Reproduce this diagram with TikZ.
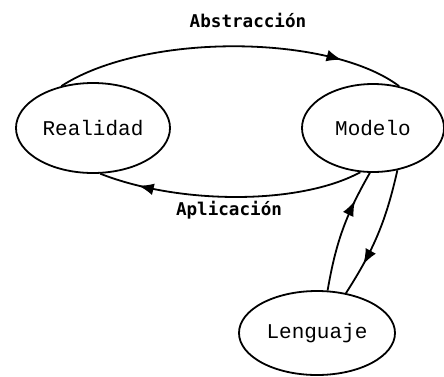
\documentclass[tikz,border=0pt]{standalone}
\usepackage{fontspec}
\setmonofont{Liberation Mono}
\newfontfamily\labelfont{DejaVu Sans Mono}
\usetikzlibrary{shapes.geometric}
\usetikzlibrary{arrows}
\usetikzlibrary{decorations.markings}

\tikzset{
  concept/.style={ellipse, draw, line width=0.9pt, inner sep=0pt,
    font=\fontsize{10.5}{12}\selectfont\ttfamily},
  flow/.style={line width=0.9pt, postaction={decorate},
    decoration={markings, mark=at position #1 with {\arrow[scale=1.4]{latex}}}},
  flow/.default=0.5,
  flowlabel/.style={font=\fontsize{8.8}{10}\selectfont\labelfont\bfseries}
}

\begin{document}
\begin{tikzpicture}[x=0.5pt,y=-0.5pt]
\useasboundingbox (0,0) rectangle (444,376);
\node[concept, minimum width=77pt, minimum height=45pt] (real) at (93,128) {Realidad};
\node[concept, minimum width=71pt, minimum height=44pt] (mod) at (373,128) {Modelo};
\node[concept, minimum width=78pt, minimum height=42pt] (leng) at (317,333) {Lenguaje};
\node[flowlabel] (abs) at (248,20) {Abstracción};
\node[flowlabel] (apl) at (229,210) {Aplicación};
\draw[flow=0.82] (real.127) .. controls (145,32) and (330,34) .. (mod.58);
\draw[flow=0.85] (mod.-106) .. controls (300,205) and (180,205) .. (real.-81);
\draw[flow=0.75] (mod.-60) to[bend left=10] (leng.54);
\draw[flow=0.75] (leng.76) to[bend left=10] (mod.-94);
\end{tikzpicture}
\end{document}
